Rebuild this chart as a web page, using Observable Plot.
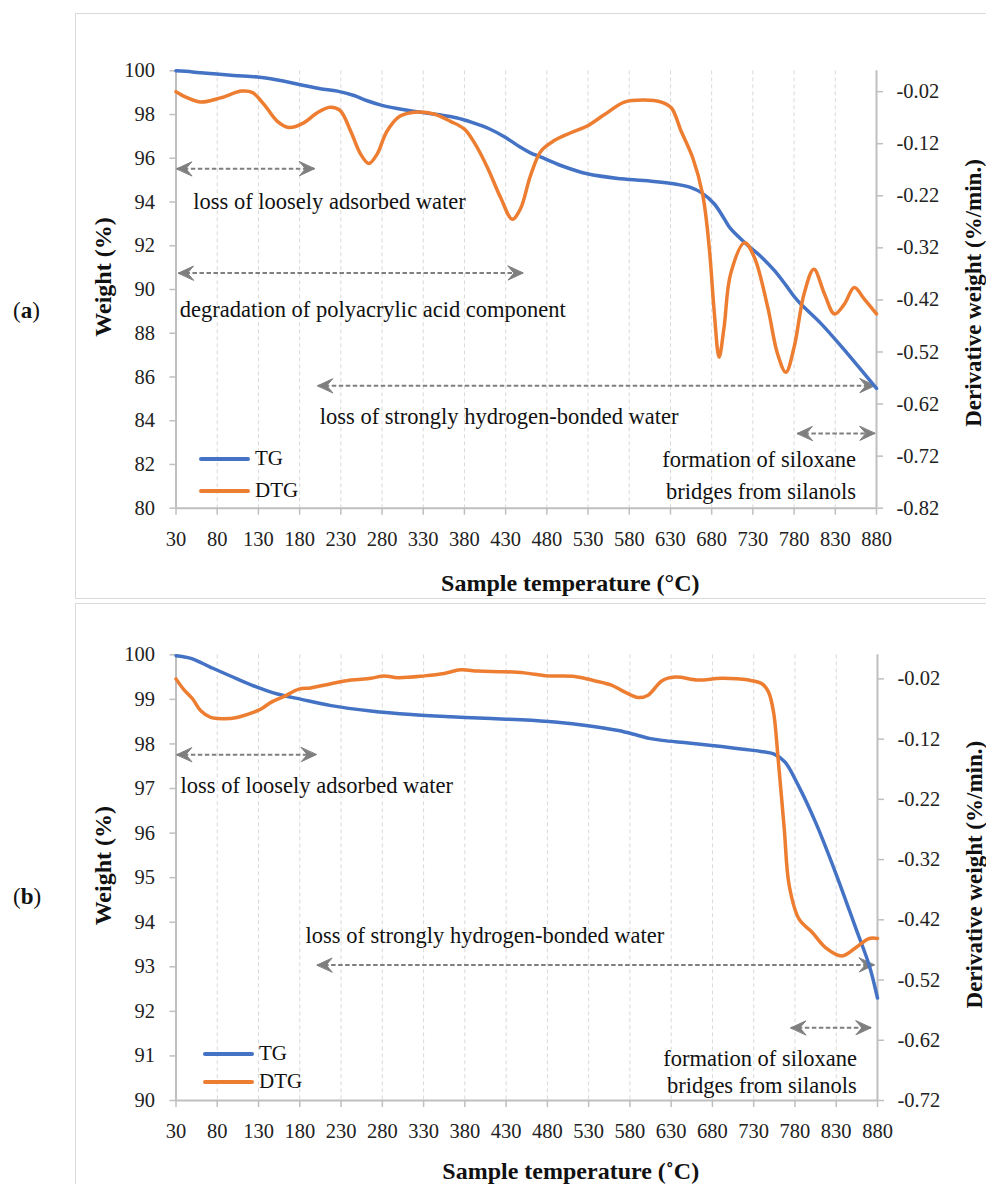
<!DOCTYPE html>
<html><head><meta charset="utf-8">
<script src="https://cdn.jsdelivr.net/npm/d3@7"></script>
<script src="https://cdn.jsdelivr.net/npm/@observablehq/plot@0.6"></script>
<style>
body{margin:0;background:#fff;}
#page{position:relative;width:986px;height:1184px;overflow:hidden;font-family:"Liberation Serif",serif;color:#111;}
#page svg, #page svg text{font-family:"Liberation Serif",serif;}
.frame{position:absolute;border:1.5px solid #d9d9d9;box-sizing:border-box;}
.plot{position:absolute;left:0;}
.plabel{position:absolute;font-size:23px;line-height:1;}
.leg{position:absolute;font-size:21px;line-height:1;display:flex;align-items:center;}
.leg span.sw{display:inline-block;width:51px;height:4px;border-radius:2px;margin-right:5px;}
</style></head>
<body>
<div id="page">
  <div class="frame" style="left:75px;top:13px;width:1000px;height:586px"></div>
  <div class="frame" style="left:75px;top:603px;width:1000px;height:700px"></div>
  <div id="plotA" class="plot" style="top:0"></div>
  <div id="plotB" class="plot" style="top:600px"></div>
  <div class="plabel" style="left:13px;top:299px">(<b>a</b>)</div>
  <div class="plabel" style="left:13px;top:885px">(<b>b</b>)</div>
  <div class="leg" style="left:199px;top:448px"><span class="sw" style="background:#4472C4"></span>TG</div>
  <div class="leg" style="left:199px;top:480px"><span class="sw" style="background:#ED7D31"></span>DTG</div>
  <div class="leg" style="left:203px;top:1043px"><span class="sw" style="background:#4472C4"></span>TG</div>
  <div class="leg" style="left:203px;top:1071px"><span class="sw" style="background:#ED7D31"></span>DTG</div>
</div>
<script>
// ---------- data ----------
const tempTicks = [30,80,130,180,230,280,330,380,430,480,530,580,630,680,730,780,830,880];

const weightTicksA = [80,82,84,86,88,90,92,94,96,98,100];
const derivTicksA = [-0.02,-0.12,-0.22,-0.32,-0.42,-0.52,-0.62,-0.72,-0.82];
const weightTicksB = [90,91,92,93,94,95,96,97,98,99,100];
const derivTicksB = [-0.02,-0.12,-0.22,-0.32,-0.42,-0.52,-0.62,-0.72];

// [temperature °C, weight %]
const tgA = [[30,100],[50,99.95],[76,99.86],[100,99.79],[129,99.72],[145,99.64],[160,99.53],[185,99.33],[205,99.18],[226,99.07],[246,98.87],[262,98.63],[280,98.42],[307,98.22],[347,98.0],[370,97.85],[390,97.63],[410,97.35],[430,96.95],[448,96.5],[460,96.25],[473,96.05],[497,95.67],[529,95.29],[570,95.06],[610,94.94],[639,94.8],[655,94.66],[668,94.42],[683,93.92],[695,93.25],[703,92.78],[724,92.01],[740,91.5],[756,90.87],[770,90.2],[784,89.5],[813,88.43],[845,87.06],[880,85.48]];
// [temperature °C, derivative weight %/min]
const dtgA = [[30,-0.020],[44,-0.032],[60,-0.040],[84,-0.032],[110,-0.019],[123,-0.022],[137,-0.045],[153,-0.077],[167,-0.089],[185,-0.080],[201,-0.061],[217,-0.050],[229,-0.056],[242,-0.096],[254,-0.140],[264,-0.158],[274,-0.140],[286,-0.096],[302,-0.067],[323,-0.059],[343,-0.063],[363,-0.077],[380,-0.092],[392,-0.118],[408,-0.166],[424,-0.224],[438,-0.265],[448,-0.245],[460,-0.182],[473,-0.134],[489,-0.114],[509,-0.099],[529,-0.086],[550,-0.064],[574,-0.040],[598,-0.036],[619,-0.040],[631,-0.051],[643,-0.096],[657,-0.147],[669,-0.217],[677,-0.319],[683,-0.441],[689,-0.530],[695,-0.473],[703,-0.370],[720,-0.310],[732,-0.339],[748,-0.434],[760,-0.524],[770,-0.559],[780,-0.511],[792,-0.409],[804,-0.361],[817,-0.409],[829,-0.447],[841,-0.428],[853,-0.396],[865,-0.418],[880,-0.447]];

const tgB = [[30,99.98],[48,99.92],[72,99.72],[104,99.46],[129,99.27],[153,99.12],[182,99.0],[218,98.86],[266,98.74],[315,98.66],[363,98.61],[412,98.57],[448,98.54],[489,98.49],[529,98.41],[566,98.30],[590,98.19],[605,98.12],[619,98.08],[651,98.02],[691,97.94],[732,97.85],[756,97.76],[768,97.59],[784,97.07],[805,96.24],[829,95.12],[854,93.85],[870,93.03],[880,92.3]];
const dtgB = [[30,-0.020],[39,-0.037],[50,-0.053],[60,-0.073],[72,-0.084],[88,-0.086],[104,-0.084],[121,-0.077],[133,-0.070],[145,-0.059],[161,-0.049],[179,-0.037],[193,-0.035],[218,-0.028],[242,-0.022],[266,-0.019],[282,-0.015],[299,-0.018],[331,-0.015],[355,-0.011],[375,-0.005],[396,-0.007],[428,-0.008],[452,-0.010],[480,-0.015],[513,-0.016],[537,-0.023],[557,-0.030],[574,-0.042],[590,-0.051],[602,-0.047],[619,-0.023],[635,-0.017],[663,-0.022],[691,-0.019],[724,-0.022],[740,-0.028],[748,-0.042],[754,-0.075],[760,-0.159],[767,-0.269],[773,-0.363],[785,-0.419],[801,-0.441],[817,-0.466],[837,-0.480],[854,-0.466],[870,-0.451],[880,-0.451]];

// annotations: arrows [x1, x2, weight-level]; notes [text, x, weight-level]
const arrowsA = [[31,198,95.52],[33,451,90.75],[202,878,85.6],[784,878,83.42]];
const notesLeftA = [["loss of loosely adsorbed water",51,94.0],["degradation of polyacrylic acid component",34.5,89.07],["loss of strongly hydrogen-bonded water",204.5,84.19]];
const notesRightA = [["formation of siloxane",855,82.23],["bridges from silanols",855,80.73]];
const arrowsB = [[31,200,97.76],[201,876,93.04],[775,872,91.63]];
const notesLeftB = [["loss of loosely adsorbed water",35.5,97.07],["loss of strongly hydrogen-bonded water",187,93.7]];
const notesRightB = [["formation of siloxane",855,90.94],["bridges from silanols",855,90.34]];

// ---------- drawing ----------
const FONT = "Liberation Serif, serif";
const stealth = {draw(ctx, l, r){ctx.moveTo(0,-l);ctx.lineTo(r,0);ctx.lineTo(0,-l*0.4);ctx.lineTo(-r,0);ctx.closePath();}};

function panel({tg, dtg, yDom, dDom, wTicks, dTicks, arrows, notesL, notesR, height, mt, mb, mr, xTitle, xDy, wDy, dDy}){
  const toW = d3.scaleLinear().domain(dDom).range(yDom);
  const dtgW = dtg.map(([t,d]) => [t, toW(d)]);
  const gray = "#7f7f7f";
  const axisStyle = {stroke: "#bfbfbf", strokeWidth: 1.5, color: "#222", fontSize: 20.5, fontFamily: FONT};
  const noteStyle = {x: d => d[1], y: d => d[2], text: d => d[0], fill: "#111", fontSize: 22.5, fontFamily: FONT, lineAnchor: "middle"};
  return Plot.plot({
    width: 986, height, marginLeft: 175.5, marginRight: mr, marginTop: mt, marginBottom: mb,
    style: {fontFamily: FONT, background: "transparent", overflow: "visible"},
    x: {domain: [30, 880], axis: null},
    y: {domain: yDom, axis: null},
    marks: [
      Plot.gridX(tempTicks.slice(1, -1), {stroke: "#d9d9d9", strokeOpacity: 1, strokeDasharray: "4,3", strokeWidth: 1}),
      Plot.ruleX([30, 880], {stroke: "#bfbfbf", strokeWidth: 2}),
      Plot.ruleY([yDom[0]], {stroke: "#bfbfbf", strokeWidth: 2}),
      Plot.axisX(tempTicks, {anchor: "bottom", tickSize: 7, tickPadding: 16, ...axisStyle, tickFormat: d => String(d)}),
      Plot.axisY(wTicks, {anchor: "left", tickSize: 6, tickPadding: 15, ...axisStyle, tickFormat: d => String(d)}),
      Plot.axisY(dTicks.map(toW), {anchor: "right", tickSize: 6, tickPadding: 14, ...axisStyle, tickFormat: v => toW.invert(v).toFixed(2)}),
      Plot.link(arrows, {x1: d => d[0], x2: d => d[1], y1: d => d[2], y2: d => d[2], stroke: gray, strokeWidth: 2, strokeDasharray: "4.5,2.5"}),
      Plot.vector(arrows, {x: d => d[0], y: d => d[2], rotate: -90, length: 15, r: 7, anchor: "end", shape: stealth, fill: gray, stroke: gray, strokeWidth: 1}),
      Plot.vector(arrows, {x: d => d[1], y: d => d[2], rotate: 90, length: 15, r: 7, anchor: "end", shape: stealth, fill: gray, stroke: gray, strokeWidth: 1}),
      Plot.text(notesL, {...noteStyle, textAnchor: "start"}),
      Plot.text(notesR, {...noteStyle, textAnchor: "end"}),
      Plot.line(tg, {x: d => d[0], y: d => d[1], stroke: "#4472C4", strokeWidth: 3.5, curve: "catmull-rom"}),
      Plot.line(dtgW, {x: d => d[0], y: d => d[1], stroke: "#ED7D31", strokeWidth: 3.5, curve: "catmull-rom"}),
      Plot.text([xTitle], {frameAnchor: "bottom", textAnchor: "middle", dx: 44, dy: xDy, fontWeight: "bold", fontSize: 24, fill: "#111", lineAnchor: "middle", fontFamily: FONT}),
      Plot.text(["Weight (%)"], {frameAnchor: "left", textAnchor: "middle", lineAnchor: "middle", dx: -73, dy: wDy, rotate: -90, fontWeight: "bold", fontSize: 24, fill: "#111", fontFamily: FONT}),
      Plot.text(["Derivative weight (%/min.)"], {frameAnchor: "right", textAnchor: "middle", lineAnchor: "middle", dx: 97, dy: dDy, rotate: -90, fontWeight: "bold", fontSize: 23, fill: "#111", fontFamily: FONT})
    ]
  });
}

document.getElementById("plotA").append(panel({
  tg: tgA, dtg: dtgA, yDom: [80, 100], dDom: [-0.82, 0.02], wTicks: weightTicksA, dTicks: derivTicksA,
  arrows: arrowsA, notesL: notesLeftA, notesR: notesRightA, height: 600, mt: 70.3, mb: 92.3, mr: 110,
  xTitle: "Sample temperature (°C)", xDy: 75, wDy: -12.5, dDy: 3.5
}));
document.getElementById("plotB").append(panel({
  tg: tgB, dtg: dtgB, yDom: [90, 100], dDom: [-0.72, 0.02], wTicks: weightTicksB, dTicks: derivTicksB,
  arrows: arrowsB, notesL: notesLeftB, notesR: notesRightB, height: 584, mt: 54.3, mb: 84, mr: 109,
  xTitle: "Sample temperature (˚C)", xDy: 71, wDy: -12, dDy: -3
}));
</script>
</body></html>
